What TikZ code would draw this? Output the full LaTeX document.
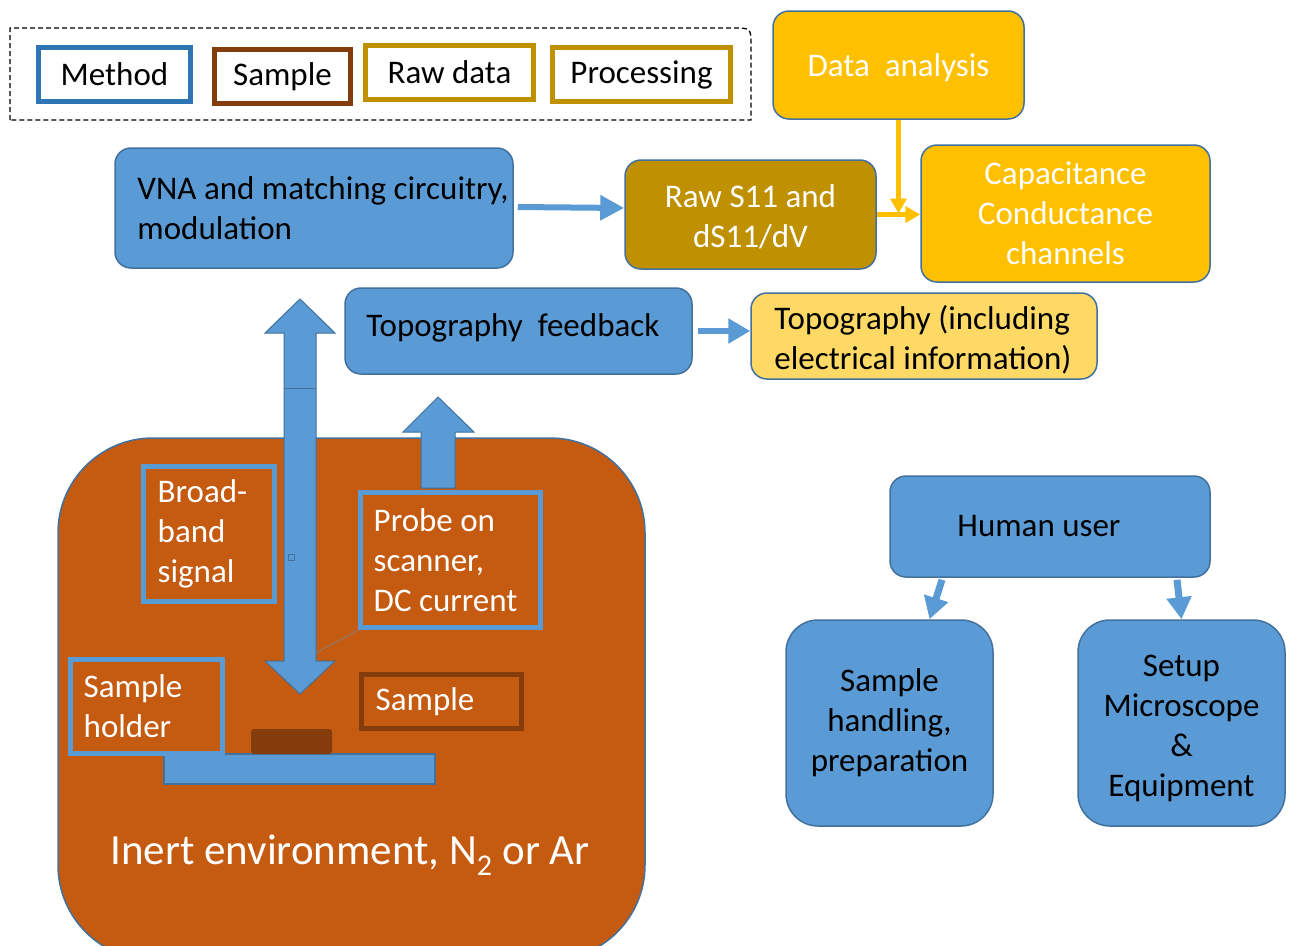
\documentclass[tikz,border=0pt]{standalone}
\usepackage{fontspec}
\setmainfont{Carlito}
\usetikzlibrary{arrows.meta}
\definecolor{bluefill}{HTML}{5B9BD5}
\definecolor{blueline}{HTML}{41719C}
\definecolor{legblue}{HTML}{2E75B6}
\definecolor{brownc}{HTML}{843C0C}
\definecolor{goldc}{HTML}{BF9000}
\definecolor{yellowc}{HTML}{FFC000}
\definecolor{lightyel}{HTML}{FFD966}
\definecolor{orangec}{HTML}{C55A11}
\begin{document}
\begin{tikzpicture}[x=1pt,y=-1pt, font=\fontsize{33}{40}\selectfont,
 legbox/.style={draw, line width=5pt, fill=white, inner sep=0pt},
 rbox/.style={draw=blueline, line width=1.5pt, rounded corners=16pt, inner sep=0pt, align=center},
 bluebox/.style={rbox, fill=bluefill, text=black},
 envbox/.style={draw=bluefill, line width=5pt, inner sep=0pt},
 txt/.style={anchor=west, align=left, inner sep=0pt},
 wtxt/.style={txt, text=white},
 ctxt/.style={align=center, inner sep=0pt},
 barrow/.style={draw=bluefill, line width=7pt, -{Triangle[length=22pt,width=24pt]}},
 yarrow/.style={draw=yellowc, line width=4.5pt, -{Triangle[length=15pt,width=16pt]}},
 blockarrow/.style={fill=bluefill, draw=blueline, line width=1pt},
]
\clip (0,0) rectangle (1290,945);
\fill[white] (0,0) rectangle (1290,945);

% legend
\draw[dashed, dash pattern=on 5pt off 3pt, line width=1.3pt] (10,120) -- (10,28) -- (733,28) .. controls (751,28) .. (751,46) -- (751,120) -- cycle;
\node[legbox, draw=legblue, minimum width=152pt, minimum height=54pt] (lmethod) at (114.5,74.5) {Method};
\node[legbox, draw=brownc, minimum width=136pt, minimum height=54pt] (lsample) at (282.5,76.5) {Sample};
\node[legbox, draw=goldc, minimum width=168pt, minimum height=54pt] (lraw) at (449.5,72.5) {Raw data};
\node[legbox, draw=goldc, minimum width=178pt, minimum height=54pt] (lproc) at (641.5,74.5) {Processing};

% top flow
\node[rbox, fill=yellowc, minimum width=251pt, minimum height=108pt] (da) at (898.5,65) {};
\node[ctxt, text=white] (dat) at ([yshift=-3pt]da.center) {Data\ \ analysis};
\node[bluebox, minimum width=398pt, minimum height=120pt] (vna) at (314,208) {};
\node[txt] (vnat) at ([xshift=23pt]vna.west) {VNA and matching circuitry,\\modulation};
\node[rbox, fill=goldc, minimum width=251pt, minimum height=109pt] (raw) at (750.5,214.5) {};
\node[ctxt, text=white] (rawt) at ([yshift=-2pt]raw.center) {Raw S11 and\\dS11/dV};
\node[rbox, fill=yellowc, text=white, minimum width=289pt, minimum height=137pt] (cap) at (1065.5,213.5) {Capacitance\\Conductance\\channels};
\node[bluebox, minimum width=347pt, minimum height=86pt] (topo) at (518.5,331) {};
\node[txt] (topot) at ([xshift=22pt,yshift=3pt]topo.west) {Topography\ \ feedback};
\node[rbox, fill=lightyel, text=black, minimum width=346pt, minimum height=86pt] (topi) at (924,336) {};
\node[txt] (topit) at ([xshift=24pt,yshift=-4pt]topi.west) {Topography (including\\electrical information)};

\draw[draw=bluefill, line width=6pt, -{Triangle[length=24pt,width=24pt]}] ([xshift=4pt,yshift=1pt]vna.east) -- (vna.east -| raw.west);
\draw[draw=bluefill, line width=6pt, -{Triangle[length=22pt,width=24pt]}] ([xshift=5pt]topo.east) -- (topo.east -| topi.west);
\draw[yarrow] (da.south) -- (da.south |- cap.west);
\draw[yarrow] (raw.east) -- (raw.east -| cap.west);

% environment
\node[draw=blueline, fill=orangec, line width=1.5pt, rounded corners=95pt, minimum width=587pt, minimum height=522pt, inner sep=0pt] (env) at (351.5,699) {};
\node[text=white, font=\fontsize{43}{50}\selectfont] (envt) at (350,855) {Inert environment, N\textsubscript{2} or Ar};

\node[fill=bluefill, draw=blueline, line width=1.2pt, minimum width=271pt, minimum height=30pt, inner sep=0pt] (plate) at (299.5,769) {};
\node[fill=brownc, minimum width=81pt, minimum height=25pt, inner sep=0pt, rounded corners=3pt] (piece) at (291.5,741.5) {};

\node[envbox, minimum width=131pt, minimum height=135pt] (bb) at (209,534) {};
\node[wtxt] (bbt) at ([xshift=16.5pt]bb.west) {Broad-\\band\\signal};
\node[envbox, minimum width=180pt, minimum height=135pt] (probe) at (450.5,560) {};
\node[wtxt] (probet) at ([xshift=15.5pt]probe.west) {Probe on\\scanner,\\DC current};
\node[envbox, minimum width=152pt, minimum height=94pt] (holder) at (146.5,706.5) {};
\node[wtxt] (holdert) at ([xshift=15.5pt]holder.west) {Sample\\holder};
\node[envbox, draw=brownc, minimum width=160pt, minimum height=54pt] (senv) at (441.5,701.5) {};
\node[wtxt] (senvt) at ([xshift=16.5pt]senv.west) {Sample};

% double arrow
\draw[blockarrow] (300,299) -- (335,333) -- (316,333) -- (316,661) -- (335,661) -- (300,694) -- (265,661) -- (284,661) -- (284,333) -- (265,333) -- cycle;
\draw[blueline, line width=1pt] (284,388) -- (316,388);
\draw[blueline, line width=0.8pt] (288,554) rectangle (294,560);
\coordinate (shaftpt) at (316,653);
\draw[gray, line width=0.8pt] (probe.south west) -- (shaftpt);
% up arrow
\draw[blockarrow] (438,397) -- (474,432) -- (455,432) -- (455,488) -- (421,488) -- (421,432) -- (403,432) -- cycle;

% human user
\node[bluebox, minimum width=320pt, minimum height=101pt] (hu) at (1050,526.5) {};
\node[ctxt] (hut) at ([xshift=-11pt]hu.center) {Human user};
\node[bluebox, rounded corners=32pt, minimum width=207pt, minimum height=206pt] (sh) at (889.5,723) {Sample\\handling,\\preparation};
\node[bluebox, rounded corners=32pt, minimum width=207pt, minimum height=206pt] (su) at (1181.5,723) {};
\node[ctxt] (sut) at ([yshift=-5pt]su.center) {Setup\\Microscope\\\&\\Equipment};
\draw[barrow] ([xshift=-108pt,yshift=-2pt]hu.south) -- ([xshift=40pt]sh.north);
\draw[barrow] ([xshift=127pt,yshift=-2pt]hu.south) -- (su.north);
\end{tikzpicture}
\end{document}
